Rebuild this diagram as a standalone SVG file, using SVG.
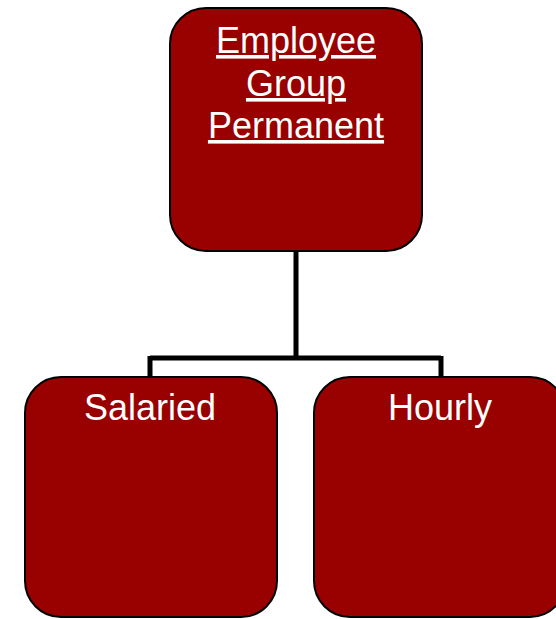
<svg xmlns="http://www.w3.org/2000/svg" width="556" height="619" viewBox="0 0 556 619">
<style>
.box{fill:#990000;stroke:#000;stroke-width:2}
.t{fill:#fff;font-family:"Liberation Sans",Arial,sans-serif;font-size:36px;text-anchor:middle}
.u{text-decoration:underline}
.c{fill:none;stroke:#000;stroke-width:5}
</style>
<rect width="556" height="619" fill="#fff"/>
<g id="connectors">
<path class="c" d="M296,252 V358 M150,358 H441 M150,356 V377 M441,356 V377"/>
</g>
<g id="permanent">
<rect class="box" x="170" y="8" width="252" height="243" rx="36"/>
<text class="t u" x="296" y="53">Employee</text>
<text class="t u" x="296" y="96">Group</text>
<text class="t u" x="296" y="138">Permanent</text>
</g>
<g id="salaried">
<rect class="box" x="25" y="377" width="252" height="240" rx="36"/>
<text class="t" x="150" y="420">Salaried</text>
</g>
<g id="hourly">
<rect class="box" x="314" y="377" width="252" height="240" rx="36"/>
<text class="t" x="440" y="420">Hourly</text>
</g>
</svg>
